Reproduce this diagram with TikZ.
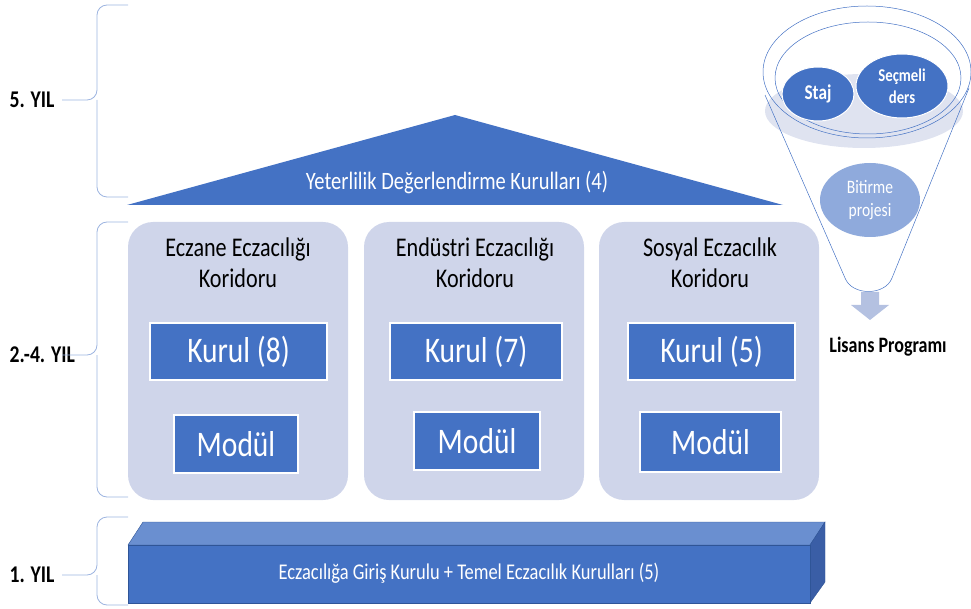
\documentclass[tikz,border=0pt]{standalone}
\usepackage{fontspec}
\setmainfont{Carlito}[FakeStretch=0.82]
\usetikzlibrary{shapes.geometric}
\definecolor{mavi}{HTML}{4472C4}
\definecolor{acikmavi}{HTML}{8FAADC}
\definecolor{cizgi}{HTML}{9DB4E0}
\definecolor{koridor}{HTML}{CFD5EA}
\definecolor{ustyuz}{HTML}{6A8FD0}
\definecolor{yanyuz}{HTML}{3A5EA6}
\definecolor{kenar}{HTML}{2F5597}
\definecolor{disk}{HTML}{DFE3F0}
\definecolor{okrenk}{HTML}{B4C1E1}
\tikzset{
  koridorkutu/.style={fill=koridor, rounded corners=25pt, minimum width=220pt, minimum height=278pt, inner sep=0pt},
  baslik/.style={align=center, font=\fontsize{27}{31}\selectfont},
  kurulkutu/.style={fill=mavi, draw=white, line width=1.2pt, text=white, inner sep=0pt, minimum height=57pt, font=\fontsize{36}{40}\selectfont},
  yil/.style={anchor=west, font=\bfseries\fontsize{24}{26}\selectfont},
  parantez/.style={draw=cizgi, line width=0.8pt, rounded corners=10pt},
  huni/.style={draw=mavi, line width=0.5pt},
}
\begin{document}
\begin{tikzpicture}[x=1pt,y=-1pt]
  \useasboundingbox (0,0) rectangle (971,609);
  %%% YILLAR
  \node[yil] at (6,100) (yil5) {5. YIL};
  \node[yil] at (6,355) (yil24) {2.-4. YIL};
  \node[yil] at (6,575) (yil1) {1. YIL};
  %parantezler
  \foreach \ust/\orta/\alt in {5/100/197, 222/355/497, 517/575/605}{
    \draw[parantez] (128,\ust) -| (97,\orta) -- (62,\orta);
    \draw[parantez] (128,\alt) -| (97,\orta);
  }
  %%% CATI
  \fill[mavi] (127,205) -- (455,115) -- (783,205) -- cycle;
  \node[text=white, font=\fontsize{25}{28}\selectfont] at (457,183) (cati) {Yeterlilik Değerlendirme Kurulları (4)};
  %%% KORIDORLAR
  \node[koridorkutu] at (238,361) (kor1) {};
  \node[koridorkutu] at (474,361) (kor2) {};
  \node[koridorkutu] at (709,361) (kor3) {};
  \node[baslik] at (238,263) (bas1) {Eczane Eczacılığı\\Koridoru};
  \node[baslik] at (475,263) (bas2) {Endüstri Eczacılığı\\Koridoru};
  \node[baslik] at (710,263) (bas3) {Sosyal Eczacılık\\Koridoru};
  %kurullar
  \node[kurulkutu, minimum width=177pt] at (238.5,351.5) (kurul1) {Kurul (8)};
  \node[kurulkutu, minimum width=172pt] at (476,351.5) (kurul2) {Kurul (7)};
  \node[kurulkutu, minimum width=167pt] at (711.5,351.5) (kurul3) {Kurul (5)};
  %moduller
  \node[kurulkutu, minimum width=124pt, minimum height=58pt] at (236,444) (modul1) {Modül};
  \node[kurulkutu, minimum width=126pt, minimum height=58pt] at (477,441) (modul2) {Modül};
  \node[kurulkutu, minimum width=141pt, minimum height=60pt] at (710.5,442) (modul3) {Modül};
  %%% TEMEL (kutu)
  \filldraw[fill=ustyuz, draw=kenar, line width=0.4pt] (128,545) -- (143,522) -- (825,522) -- (810,545) -- cycle;
  \filldraw[fill=yanyuz, draw=kenar, line width=0.4pt] (810,545) -- (825,522) -- (825,582) -- (810,603) -- cycle;
  \filldraw[fill=mavi, draw=kenar, line width=0.4pt] (128,545) rectangle (810,603);
  \node[text=white, font=\fontsize{22.5}{25}\selectfont] at (469,573) (temel) {Eczacılığa Giriş Kurulu + Temel Eczacılık Kurulları (5)};
  %%% HUNI
  \fill[disk] (864,111) ellipse [x radius=99, y radius=37];
  \draw[huni] (867,72) ellipse [x radius=104, y radius=66];
  \draw[huni] (868,78) ellipse [x radius=93, y radius=56];
  \draw[huni] (765,95) -- (845,278) .. controls (852,296) and (885,296) .. (892,278) -- (969,88);
  \node[ellipse, fill=mavi, draw=white, line width=1pt, minimum width=72pt, minimum height=54pt, text=white, font=\bfseries\fontsize{21}{24}\selectfont] at (818,94) (staj) {Staj};
  \node[ellipse, fill=mavi, draw=white, line width=1pt, minimum width=92pt, minimum height=64pt, inner sep=0pt, align=center, text=white, font=\bfseries\fontsize{18}{22}\selectfont] at (902,86) (secmeli) {Seçmeli\\ders};
  \node[ellipse, fill=acikmavi, minimum width=100pt, minimum height=74pt, inner sep=0pt, align=center, text=white, font=\fontsize{19}{23}\selectfont] at (870,200) (bitirme) {Bitirme\\projesi};
  %ok
  \fill[okrenk] (861,292) -- (879,292) -- (879,305) -- (889,305) -- (870,320) -- (851,305) -- (861,305) -- cycle;
  \node[font=\bfseries\fontsize{22}{24}\selectfont] at (888,347) (lisans) {Lisans Programı};
\end{tikzpicture}
\end{document}
